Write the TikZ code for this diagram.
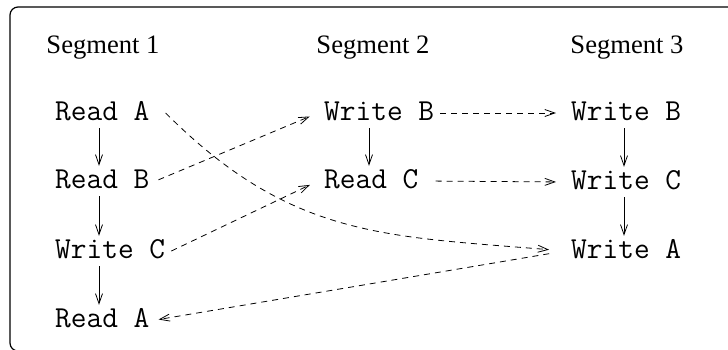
\documentclass[tikz,border=0pt]{standalone}
\usepackage{fontspec}
\setmainfont{Liberation Serif}
\usetikzlibrary{arrows.meta}
\tikzset{
	op/.style={anchor=base west, font=\ttfamily\fontsize{30.5}{34}\selectfont, text height=19pt, text depth=5pt, inner xsep=6pt, inner ysep=3pt},
	seglabel/.style={anchor=base, font=\fontsize{26.6}{30}\selectfont},
	order/.style={line width=0.8pt, -{Straight Barb[length=10pt,width=7pt]}},
	dep/.style={order, dash pattern=on 6pt off 5pt, shorten >=9pt},
}

\begin{document}
\begin{tikzpicture}[x=1pt, y=-1pt]
			%%%%% START %%%%%
			
			\useasboundingbox (0, 0) rectangle (728, 349);
			\begin{scope}
				\clip (0, 0) rectangle (728, 349);
				\draw[line width=1.2pt, rounded corners=8pt] (10, 7) rectangle (745, 351);
			\end{scope}
			
			\node[seglabel] (seg1) at (103, 53) {Segment 1};
			\node[seglabel] (seg2) at (373, 53) {Segment 2};
			\node[seglabel] (seg3) at (627, 53) {Segment 3};
			
			\node[op] (s1ra) at (49, 120) {Read A};
			\node[op] (s1rb) at (49, 188) {Read B};
			\node[op] (s1wc) at (49, 258) {Write C};
			\node[op] (s1rx) at (49, 327) {Read A};
			
			\node[op] (s2wb) at (318, 120) {Write B};
			\node[op] (s2rc) at (318, 188) {Read C};
			
			\node[op] (s3wb) at (565, 120) {Write B};
			\node[op] (s3wc) at (565, 189) {Write C};
			\node[op] (s3wa) at (565, 258) {Write A};
			
			\draw[order] ([xshift=50pt]s1ra.south west) -- ([xshift=50pt]s1rb.north west);
			\draw[order] ([xshift=50pt]s1rb.south west) -- ([xshift=50pt]s1wc.north west);
			\draw[order] ([xshift=50pt]s1wc.south west) -- ([xshift=50pt]s1rx.north west);
			\draw[order] ([xshift=51pt]s2wb.south west) -- ([xshift=51pt]s2rc.north west);
			\draw[order] ([xshift=59pt]s3wb.south west) -- ([xshift=59pt]s3wc.north west);
			\draw[order] ([xshift=59pt]s3wc.south west) -- ([xshift=59pt]s3wa.north west);
			
			\draw[dep, shorten <=3pt] (s1rb.east) -- (s2wb.west);
			\draw[dep] (s1wc.east) -- (s2rc.west);
			\draw[dep] (s2wb.east) -- (s3wb.west);
			\draw[dep, shorten <=11pt] (s2rc.east) -- (s3wc.west);
			\draw[dep, shorten >=16pt] ([xshift=10pt]s1ra.east) .. controls +(125, 125) and +(-180, -15) .. (s3wa.west);
			\draw[dep, shorten <=16pt, shorten >=3pt] (s3wa.west) -- (s1rx.east);
			
			%%%%% END %%%%%
\end{tikzpicture}
\end{document}
